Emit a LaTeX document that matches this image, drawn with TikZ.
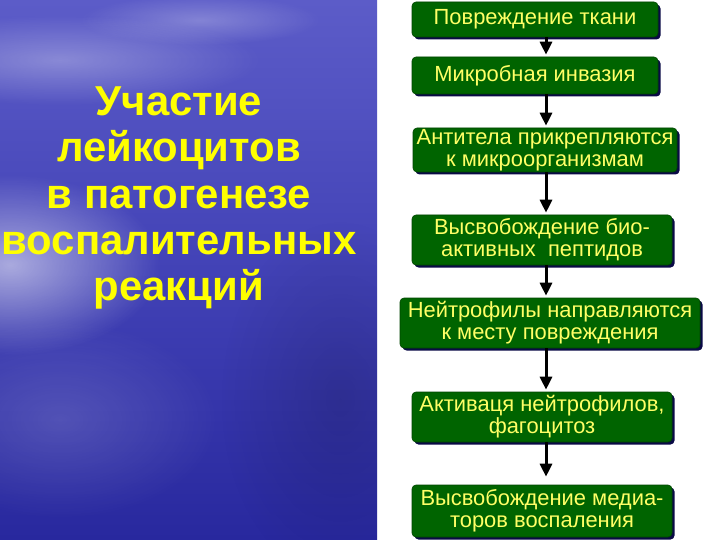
\documentclass[tikz,border=0pt]{standalone}
\usepackage{fontspec}
\setmainfont{Liberation Sans}
\usetikzlibrary{arrows.meta,shadows,fadings}
\tikzfading[name=softglow, inner color=transparent!0, outer color=transparent!100]
\definecolor{boxgreen}{RGB}{0,100,0}
\definecolor{boxline}{RGB}{0,70,0}
\definecolor{shadownavy}{RGB}{10,10,70}
\definecolor{txtyellow}{RGB}{255,255,102}
\definecolor{ttlyellow}{RGB}{255,255,0}
\definecolor{bluetop}{RGB}{92,92,200}
\definecolor{bluemid}{RGB}{66,66,182}
\definecolor{bluebot}{RGB}{40,40,158}
\tikzset{
  stepbox/.style={draw=boxline, line width=0.6bp, fill=boxgreen, rounded corners=4bp,
    text=txtyellow, align=center, inner sep=0pt,
    font=\fontsize{22}{22}\selectfont,
    drop shadow={shadow xshift=2.5bp, shadow yshift=-2.5bp, fill=shadownavy, opacity=1}},
  flowarrow/.style={line width=3bp, draw=black, -{Triangle[width=12bp,length=13bp]}, shorten >=2bp},
  ttl/.style={text=ttlyellow, align=center, font=\fontsize{42}{46.5}\selectfont\bfseries}
}
\begin{document}
\begin{tikzpicture}[x=1bp,y=-1bp]
\useasboundingbox (0,0) rectangle (720,540);
\fill[white] (0,0) rectangle (720,540);
% left background panel
\begin{scope}
\clip (0,0) rectangle (377,540);
\shade[top color=bluetop, bottom color=bluebot, middle color=bluemid] (0,0) rectangle (377,540);
\fill[white, path fading=softglow, fill opacity=0.55] (10,265) ellipse (150 and 90);
\fill[white, path fading=softglow, fill opacity=0.3] (60,60) ellipse (200 and 45);
\fill[white, path fading=softglow, fill opacity=0.25] (200,20) ellipse (120 and 25);
\fill[white, path fading=softglow, fill opacity=0.15] (60,420) ellipse (160 and 100);
\fill[black, path fading=softglow, fill opacity=0.15] (340,400) ellipse (120 and 180);
\end{scope}
% title
\node[ttl] (title) at (179,198) {Участие\\лейкоцитов\\в патогенезе\\воспалительных\\реакций};
% boxes
\node[stepbox, minimum width=246bp, minimum height=35bp] (b1) at (535,19.5) {Повреждение ткани};
\node[stepbox, minimum width=246bp, minimum height=37bp] (b2) at (535,75.5) {Микробная инвазия};
\node[stepbox, minimum width=264bp, minimum height=44bp] (b3) at (545,150) {Антитела прикрепляются\\к микроорганизмам};
\node[stepbox, minimum width=260bp, minimum height=50bp] (b4) at (542,240) {Высвобождение био-\\активных\ \ пептидов};
\node[stepbox, minimum width=300bp, minimum height=50bp] (b5) at (550,323) {Нейтрофилы направляются\\к месту повреждения};
\node[stepbox, minimum width=260bp, minimum height=50bp] (b6) at (542,417) {Активаця нейтрофилов,\\фагоцитоз};
\node[stepbox, minimum width=260bp, minimum height=52bp] (b7) at (542,511) {Высвобождение медиа-\\торов воспаления};
% arrows
\coordinate (ax) at (546,0);
\draw[flowarrow] (b1.south -| ax) -- (b2.north -| ax);
\draw[flowarrow] (b2.south -| ax) -- (b3.north -| ax);
\draw[flowarrow] (b3.south -| ax) -- (b4.north -| ax);
\draw[flowarrow] (b4.south -| ax) -- (b5.north -| ax);
\draw[flowarrow] (b5.south -| ax) -- (b6.north -| ax);
\draw[flowarrow, shorten >=8bp] (b6.south -| ax) -- (b7.north -| ax);
\end{tikzpicture}
\end{document}
